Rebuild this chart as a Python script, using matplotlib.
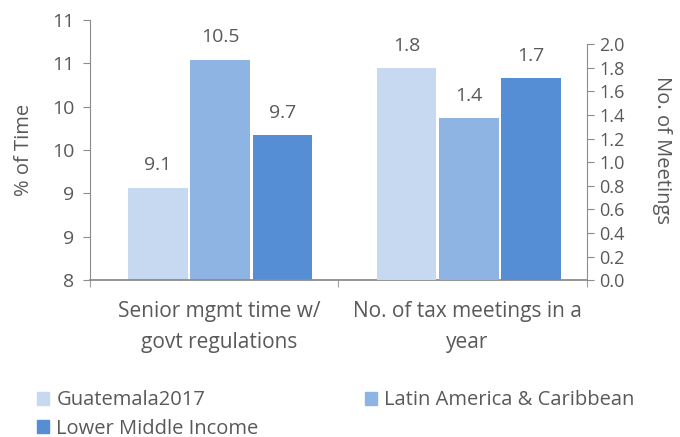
import matplotlib.pyplot as plt
from matplotlib.patches import Patch

plt.rcParams['font.family'] = ['Open Sans', 'DejaVu Sans']

categories = ['Senior mgmt time w/\ngovt regulations', 'No. of tax meetings in a\nyear']
series = ['Guatemala2017', 'Latin America & Caribbean', 'Lower Middle Income']
colors = ['#c6d9f0', '#8eb4e3', '#558ed5']
# left group (% of time), right group (no. of meetings)
mgmt_time = [9.06, 10.54, 9.67]
tax_meetings = [1.80, 1.37, 1.71]
left_ticks = [8, 8.5, 9, 9.5, 10, 10.5, 11]
left_ticklabels = ['8', '9', '9', '10', '10', '11', '11']
right_ticks = [0.0, 0.2, 0.4, 0.6, 0.8, 1.0, 1.2, 1.4, 1.6, 1.8, 2.0]

txt = '#595959'
fs = 14.5
fig = plt.figure(figsize=(6.8, 4.37), dpi=100)
ax = fig.add_axes([0.132, 0.359, 0.731, 0.595])
ax2 = ax.twinx()

w = 0.24
offs = [-0.245, 0.005, 0.255]
for i in range(3):
    ax.bar(0.02 + offs[i], mgmt_time[i] - 8, w, bottom=8, color=colors[i])
    ax.text(0.02 + offs[i], mgmt_time[i] + 0.16, f'{mgmt_time[i]:.1f}', ha='center', va='bottom',
            fontsize=14, color=txt)
    ax2.bar(1.02 + offs[i], tax_meetings[i], w, color=colors[i])
    ax2.text(1.02 + offs[i], tax_meetings[i] + 0.11, f'{tax_meetings[i]:.1f}', ha='center', va='bottom',
             fontsize=14, color=txt)

ax.set_xlim(-0.5, 1.5)
ax.set_ylim(8, 11)
ax2.set_ylim(0, 2.0 * 260 / 236)

ax.set_yticks(left_ticks)
ax.set_yticklabels(left_ticklabels)
ax2.set_yticks(right_ticks)
ax2.set_yticklabels([f'{t:.1f}' for t in right_ticks])

ax.set_xticks([-0.5, 0.5, 1.5])
ax.set_xticklabels([])
ax.set_xticks([0.02, 1.02], minor=True)
ax.set_xticklabels(categories, minor=True, fontsize=15, color=txt, linespacing=1.6)
ax.tick_params(axis='x', which='minor', length=0, pad=15)
ax.tick_params(axis='x', which='major', length=5, color='#a0a0a0')

ax.tick_params(axis='y', labelsize=14, labelcolor=txt, color='#8c8c8c', length=5, pad=6)
ax2.tick_params(axis='y', labelsize=13, labelcolor=txt, color='#8c8c8c', length=5, pad=4)

for s in ['top', 'right']:
    ax.spines[s].set_visible(False)
for s in ['top', 'left', 'bottom']:
    ax2.spines[s].set_visible(False)
ax.spines['left'].set_color('#8c8c8c')
ax.spines['bottom'].set_color('#8c8c8c')
ax.spines['bottom'].set_linewidth(1.3)
ax2.spines['right'].set_color('#8c8c8c')
ax2.spines['right'].set_bounds(0, 2.0)

ax.set_ylabel('% of Time', fontsize=14.5, color=txt, labelpad=13)
ax2.set_ylabel('No. of Meetings', fontsize=14.5, color=txt, rotation=270, labelpad=34)

handles = [Patch(color=c) for c in colors]
order = [0, 2, 1]
fig.legend([handles[i] for i in order], [series[i] for i in order], ncol=2,
           loc='lower left', bbox_to_anchor=(0.028, -0.045), frameon=False,
           fontsize=fs, labelcolor=txt, handlelength=0.6, handleheight=0.6,
           handletextpad=0.35, columnspacing=5.3, labelspacing=0.4)

fig.savefig('out.png', dpi=100)
